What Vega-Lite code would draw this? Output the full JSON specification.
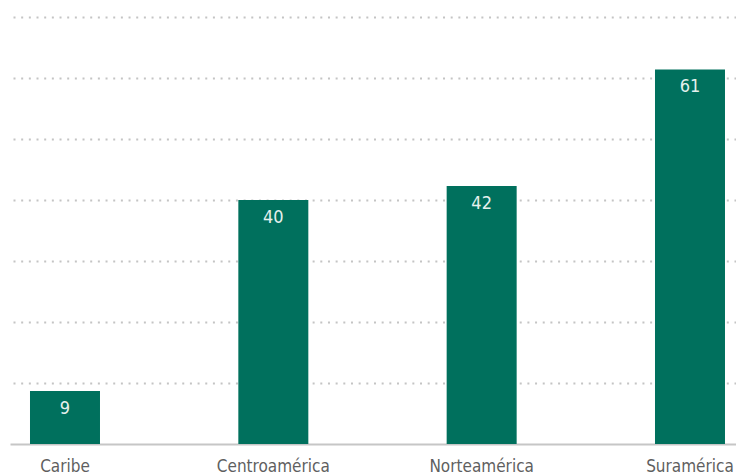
{
  "$schema": "https://vega.github.io/schema/vega-lite/v6.json",
  "autosize": {"type": "none"},
  "padding": {"left": 10, "top": 17, "right": 0, "bottom": 30},
  "width": 726,
  "height": 427,
  "background": "white",
  "data": {
    "values": [
      {"region": "Caribe", "value": 8.7},
      {"region": "Centroamérica", "value": 40.0},
      {"region": "Norteamérica", "value": 42.3},
      {"region": "Suramérica", "value": 61.4}
    ]
  },
  "config": {
    "view": {"stroke": null},
    "font": "DejaVu Sans Condensed, Liberation Sans Narrow, Roboto, sans-serif"
  },
  "encoding": {
    "x": {
      "field": "region",
      "type": "nominal",
      "sort": null,
      "scale": {"paddingInner": 0.664, "paddingOuter": 0.0744, "align": 0.645},
      "axis": {
        "title": null,
        "labelAngle": 0,
        "ticks": false,
        "labelPadding": 14,
        "labelFont": "DejaVu Sans Condensed, Liberation Sans Narrow, Roboto, sans-serif",
        "labelFontSize": 17,
        "labelFontWeight": 300,
        "labelColor": "#5f5f5f",
        "domainColor": "#c6c6c6",
        "domainWidth": 2,
        "grid": false
      }
    },
    "y": {
      "field": "value",
      "type": "quantitative",
      "scale": {"domain": [0, 70], "nice": false},
      "axis": {
        "title": null,
        "labels": false,
        "ticks": false,
        "domain": false,
        "values": [10, 20, 30, 40, 50, 60, 70],
        "grid": true,
        "gridColor": "#c4c4c4",
        "gridWidth": 2,
        "gridDash": [2, 5.67],
        "gridDashOffset": 4.67
      }
    }
  },
  "layer": [
    {
      "mark": {"type": "bar", "color": "#00705d"}
    },
    {
      "mark": {
        "type": "text",
        "baseline": "alphabetic",
        "dy": 23,
        "font": "DejaVu Sans Condensed, Liberation Sans Narrow, Roboto, sans-serif",
        "fontSize": 18,
        "fontWeight": 300,
        "color": "#e6f0ed"
      },
      "encoding": {
        "text": {"field": "value", "type": "quantitative", "format": ".0f"}
      }
    }
  ]
}
